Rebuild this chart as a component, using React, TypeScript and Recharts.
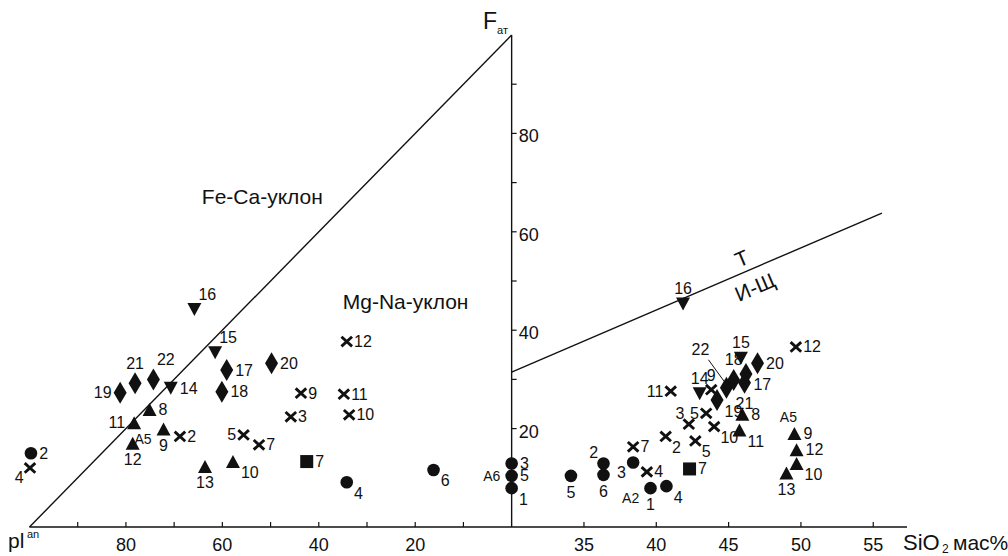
import {
  ScatterChart,
  Scatter,
  XAxis,
  YAxis,
  ReferenceLine,
  ReferenceDot,
} from "recharts";

// [value, F_at, label, label side, group tag?, tag side?]
// left half: value = pl^an (100 at the left edge, 0 at the F axis)
// right half: value = SiO2 wt% (30 at the F axis)
type Row = [number, number, string, string, string?, string?];

const plCircles: Row[] = [
  [99.7, 15.0, "2", "r"],
  [34.2, 9.1, "4", "br"],
  [16.2, 11.6, "6", "br"],
  [0, 12.9, "3", "r"],
  [0, 10.4, "5", "r", "A6", "l"],
  [0, 7.9, "1", "br"],
];
const siCircles: Row[] = [
  [34.1, 10.4, "5", "b"],
  [36.35, 12.9, "2", "tl"],
  [36.35, 10.6, "6", "b"],
  [38.4, 13.1, "3", "bl"],
  [39.6, 7.9, "1", "b", "A2", "bl"],
  [40.7, 8.3, "4", "br"],
];

const plCrosses: Row[] = [
  [68.8, 18.4, "2", "r"],
  [45.8, 22.4, "3", "r"],
  [99.9, 12.0, "4", "bl"],
  [55.6, 18.7, "5", "l"],
  [52.4, 16.7, "7", "r"],
  [43.7, 27.2, "9", "r"],
  [33.7, 22.8, "10", "r"],
  [34.8, 27.0, "11", "r"],
  [34.2, 37.7, "12", "r"],
];
const siCrosses: Row[] = [
  [40.65, 18.4, "2", "br"],
  [42.25, 20.9, "3", "tl"],
  [39.35, 11.2, "4", "r"],
  [42.7, 17.5, "5", "br"],
  [43.45, 23.1, "5", "l"],
  [38.4, 16.3, "7", "r"],
  [43.8, 27.9, "9", "t"],
  [44.0, 20.4, "10", "br"],
  [41.0, 27.6, "11", "l"],
  [49.65, 36.6, "12", "r"],
];

const plTriUp: Row[] = [
  [75.1, 23.9, "8", "r"],
  [72.2, 19.9, "9", "b", "A5", "bl"],
  [57.8, 13.3, "10", "br"],
  [78.3, 21.2, "11", "l"],
  [78.6, 17.0, "12", "b"],
  [63.6, 12.3, "13", "b"],
];
const siTriUp: Row[] = [
  [45.95, 22.9, "8", "r"],
  [49.55, 19.0, "9", "r", "A5", "t"],
  [49.7, 12.9, "10", "br"],
  [45.75, 19.7, "11", "br"],
  [49.7, 15.7, "12", "r"],
  [49.0, 11.0, "13", "b"],
];

const plTriDown: Row[] = [
  [70.7, 28.2, "14", "r"],
  [61.5, 35.4, "15", "tr"],
  [65.8, 44.2, "16", "tr"],
];
const siTriDown: Row[] = [
  [43.0, 27.1, "14", "t"],
  [45.85, 34.3, "15", "t"],
  [41.85, 45.3, "16", "t"],
];

const plDiamonds: Row[] = [
  [59.1, 31.9, "17", "r"],
  [60.1, 27.5, "18", "r"],
  [81.2, 27.3, "19", "l"],
  [49.8, 33.3, "20", "r"],
  [78.1, 29.2, "21", "t"],
  [74.3, 30.0, "22", "tr"],
];
const siDiamonds: Row[] = [
  [44.2, 25.8, "19", "br"],
  [44.85, 28.3, "22", "lead"],
  [45.35, 29.9, "18", "t"],
  [46.1, 29.3, "21", "b"],
  [46.2, 31.1, "17", "br"],
  [47.0, 33.3, "20", "r"],
];

const plSquares: Row[] = [[42.5, 13.3, "7", "r"]];
const siSquares: Row[] = [[42.3, 11.8, "7", "r"]];

// axes and boundary lines
const plTicks = [90, 80, 70, 60, 50, 40, 30, 20, 10];
const plTickLabels = [80, 60, 40, 20];
const siTicks = [35, 40, 45, 50, 55];
const fTicks = [10, 20, 30, 40, 50, 60, 70, 80, 90];
const fTickLabels = [20, 40, 60, 80];
const feCaLine = [
  { pl: 100, F: 0 },
  { pl: 0, F: 100 },
];
const tiLine = [
  { si: 30, F: 31.5 },
  { si: 55.6, F: 63.8 },
];

const INK = "#111";
const FONT = "'Liberation Sans', Arial, Helvetica, sans-serif";
const LABEL_SIZE = 16;

const plToU = (pl: number) => -pl;
const siToU = (si: number) => (si - 30) * 3;

const build = (left: Row[], right: Row[]) => [
  ...left.map(([v, F, n, at, tag, tagAt]) => ({ u: plToU(v), F, n, at, tag, tagAt })),
  ...right.map(([v, F, n, at, tag, tagAt]) => ({ u: siToU(v), F, n, at, tag, tagAt })),
];

const BOX: Record<string, [number, number]> = {
  circle: [6.3, 6.3],
  up: [7, 6.5],
  down: [7, 6.5],
  diamond: [6.5, 11],
  square: [6.5, 6.5],
  cross: [5.3, 4.8],
};

function labelPos(at: string, cx: number, cy: number, hw: number, hh: number) {
  switch (at) {
    case "l":
      return { x: cx - hw - 2, y: cy, a: "end" };
    case "t":
      return { x: cx, y: cy - hh - 9, a: "middle" };
    case "b":
      return { x: cx, y: cy + hh + 10, a: "middle" };
    case "tr":
      return { x: cx + hw - 3, y: cy - hh - 9, a: "start" };
    case "br":
      return { x: cx + hw + 1, y: cy + 11, a: "start" };
    case "tl":
      return { x: cx - hw + 1, y: cy - 11, a: "end" };
    case "bl":
      return { x: cx - hw - 1, y: cy + 10, a: "end" };
    default:
      return { x: cx + hw + 2, y: cy, a: "start" };
  }
}

function tagPos(at: string, cx: number, cy: number, hw: number, hh: number) {
  if (at === "l") return { x: cx - hw - 5, y: cy, a: "end" };
  if (at === "t") return { x: cx - 6, y: cy - hh - 10, a: "middle" };
  return { x: cx - hw - 5, y: cy + 10, a: "end" };
}

const makeShape = (kind: string) => (p: any) => {
  const { cx, cy, payload } = p;
  if (cx == null || cy == null) return <g />;
  const [hw, hh] = BOX[kind];
  let mark;
  if (kind === "circle") mark = <circle cx={cx} cy={cy} r={hw} fill={INK} />;
  else if (kind === "square")
    mark = <rect x={cx - hw} y={cy - hh} width={hw * 2} height={hh * 2} fill={INK} />;
  else if (kind === "up")
    mark = <polygon points={`${cx},${cy - hh} ${cx + hw},${cy + hh} ${cx - hw},${cy + hh}`} fill={INK} />;
  else if (kind === "down")
    mark = <polygon points={`${cx - hw},${cy - hh} ${cx + hw},${cy - hh} ${cx},${cy + hh}`} fill={INK} />;
  else if (kind === "diamond")
    mark = <polygon points={`${cx},${cy - hh} ${cx + hw},${cy} ${cx},${cy + hh} ${cx - hw},${cy}`} fill={INK} />;
  else
    mark = (
      <path
        d={`M${cx - hw},${cy - hh}L${cx + hw},${cy + hh}M${cx + hw},${cy - hh}L${cx - hw},${cy + hh}`}
        stroke={INK}
        strokeWidth={2.9}
      />
    );

  let label;
  if (payload.at === "lead") {
    label = (
      <g>
        <line x1={cx - 18} y1={cy - 28} x2={cx - 2} y2={cy - 6} stroke={INK} strokeWidth={1} />
        <text x={cx - 26} y={cy - 38} textAnchor="middle" dominantBaseline="central" fontSize={LABEL_SIZE} fill={INK} fontFamily={FONT}>
          {payload.n}
        </text>
      </g>
    );
  } else {
    const lp = labelPos(payload.at, cx, cy, hw, hh);
    label = (
      <text x={lp.x} y={lp.y} textAnchor={lp.a as any} dominantBaseline="central" fontSize={LABEL_SIZE} fill={INK} fontFamily={FONT}>
        {payload.n}
      </text>
    );
  }
  let tag = null;
  if (payload.tag) {
    const tp = tagPos(payload.tagAt, cx, cy, hw, hh);
    tag = (
      <text x={tp.x} y={tp.y} textAnchor={tp.a as any} dominantBaseline="central" fontSize={14} fill={INK} fontFamily={FONT}>
        {payload.tag}
      </text>
    );
  }
  return (
    <g>
      {mark}
      {label}
      {tag}
    </g>
  );
};

const circles = build(plCircles, siCircles);
const crosses = build(plCrosses, siCrosses);
const triUp = build(plTriUp, siTriUp);
const triDown = build(plTriDown, siTriDown);
const diamonds = build(plDiamonds, siDiamonds);
const squares = build(plSquares, siSquares);
const fTickData = fTicks.map((F) => ({ u: 0, F }));

const xTicks = [...plTicks.map(plToU), ...siTicks.map(siToU)];
const xTickLabel = (u: number) => {
  if (u < 0) return plTickLabels.includes(-u) ? String(-u) : "";
  return String(Math.round(u / 3 + 30));
};

const XTick = (props: any) => {
  const { x, y, payload } = props;
  return (
    <g>
      <line x1={x} y1={y} x2={x} y2={y - 5} stroke={INK} strokeWidth={1.2} />
      <text x={x} y={y + 24} textAnchor="middle" fontSize={18} fill={INK} fontFamily={FONT}>
        {xTickLabel(payload.value)}
      </text>
    </g>
  );
};

const fTickShape = (p: any) => {
  const { cx, cy, payload } = p;
  return (
    <g>
      <line x1={cx} y1={cy} x2={cx + 5} y2={cy} stroke={INK} strokeWidth={1.2} />
      {fTickLabels.includes(payload.F) && (
        <text x={cx + 7} y={cy + 3} dominantBaseline="central" fontSize={18} fill={INK} fontFamily={FONT}>
          {payload.F}
        </text>
      )}
    </g>
  );
};

const note = (text: string, size: number, rotate = 0) => (p: any) => (
  <text
    x={p.cx}
    y={p.cy}
    textAnchor="middle"
    dominantBaseline="central"
    fontSize={size}
    fill={INK}
    fontFamily={FONT}
    transform={rotate ? `rotate(${rotate} ${p.cx} ${p.cy})` : undefined}
  >
    {text}
  </text>
);

export default function App() {
  return (
    <div style={{ position: "relative", width: 1008, height: 556, background: "#fff" }}>
      <style>{"body{margin:0;background:#fff}"}</style>
      <ScatterChart width={1008} height={556} margin={{ top: 35, right: 101, bottom: 0, left: 29.5 }}>
        <XAxis
          type="number"
          dataKey="u"
          domain={[-100, 82]}
          ticks={xTicks}
          interval={0}
          tick={<XTick />}
          tickLine={false}
          tickSize={0}
          tickMargin={0}
          height={29}
          axisLine={{ stroke: INK, strokeWidth: 1.4 }}
        />
        <YAxis type="number" dataKey="F" domain={[0, 100]} hide />
        <ReferenceLine
          segment={[
            { x: plToU(feCaLine[0].pl), y: feCaLine[0].F },
            { x: plToU(feCaLine[1].pl), y: feCaLine[1].F },
          ]}
          stroke={INK}
          strokeWidth={1.4}
        />
        <ReferenceLine
          segment={[
            { x: 0, y: 0 },
            { x: 0, y: 100 },
          ]}
          stroke={INK}
          strokeWidth={1.4}
        />
        <ReferenceLine
          segment={[
            { x: siToU(tiLine[0].si), y: tiLine[0].F },
            { x: siToU(tiLine[1].si), y: tiLine[1].F },
          ]}
          stroke={INK}
          strokeWidth={1.4}
        />
        <ReferenceDot x={plToU(51.7)} y={67.1} r={0} shape={note("Fe-Ca-уклон", 21)} />
        <ReferenceDot x={plToU(22)} y={45.8} r={0} shape={note("Mg-Na-уклон", 21)} />
        <ReferenceDot x={siToU(45.9)} y={54.6} r={0} shape={note("Т", 21, -23)} />
        <ReferenceDot x={siToU(46.83)} y={48.8} r={0} shape={note("И-Щ", 21, -23)} />
        <Scatter data={fTickData} shape={fTickShape} isAnimationActive={false} />
        <Scatter data={circles} shape={makeShape("circle")} isAnimationActive={false} />
        <Scatter data={crosses} shape={makeShape("cross")} isAnimationActive={false} />
        <Scatter data={triUp} shape={makeShape("up")} isAnimationActive={false} />
        <Scatter data={triDown} shape={makeShape("down")} isAnimationActive={false} />
        <Scatter data={diamonds} shape={makeShape("diamond")} isAnimationActive={false} />
        <Scatter data={squares} shape={makeShape("square")} isAnimationActive={false} />
      </ScatterChart>
      <svg
        width={1008}
        height={556}
        style={{ position: "absolute", left: 0, top: 0, pointerEvents: "none" }}
      >
        <text x={483} y={29} fontSize={23} fill={INK} fontFamily={FONT}>
          F
        </text>
        <text x={497} y={34} fontSize={11} fill={INK} fontFamily={FONT}>
          ат
        </text>
        <text x={8} y={548} fontSize={21} fill={INK} fontFamily={FONT}>
          pl
        </text>
        <text x={27} y={538} fontSize={11} fill={INK} fontFamily={FONT}>
          an
        </text>
        <text x={903} y={550} fontSize={22} fill={INK} fontFamily={FONT}>
          SiO
        </text>
        <text x={942} y={553} fontSize={12} fill={INK} fontFamily={FONT}>
          2
        </text>
        <text x={953} y={550} fontSize={21} fill={INK} fontFamily={FONT}>
          мас%
        </text>
      </svg>
    </div>
  );
}
